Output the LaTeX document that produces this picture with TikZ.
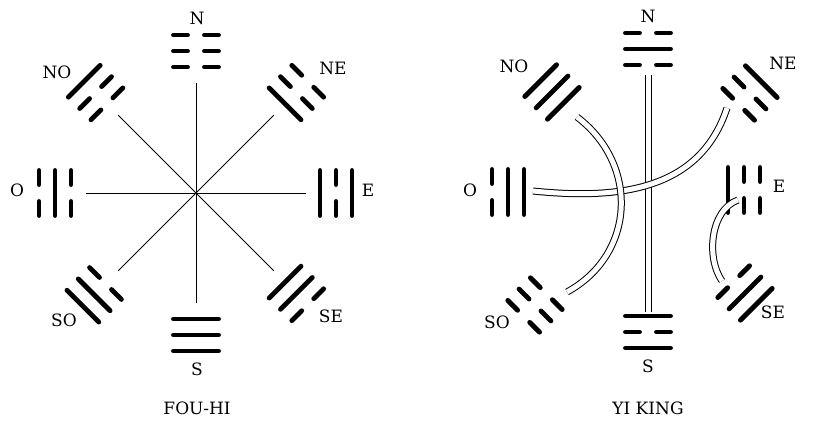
\documentclass[tikz,border=0pt]{standalone}
\usepackage{fontspec}
\newfontfamily\labfont{DejaVu Serif}
\usetikzlibrary{calc}
\newcommand\yao[2]{%
  \ifnum#1=1
    \draw[tline] (-22.5,#2) -- (22.5,#2);
  \else
    \draw[tline] (-22.5,#2) -- (-8.5,#2);
    \draw[tline] (8.5,#2) -- (22.5,#2);
  \fi}
\newcommand\trigram[6]{%
  \coordinate (#1) at (#2);
  \begin{scope}[shift={(#1)}, rotate=#3-90]
    \yao{#4}{-16}\yao{#5}{0}\yao{#6}{16}
  \end{scope}}
\begin{document}
\begin{tikzpicture}[x=1pt,y=1pt]
\tikzset{
  tline/.style={line width=4.8pt, line cap=round},
  spoke/.style={line width=0.9pt},
  dbl/.style={double, double distance=5pt, line width=1pt},
  lab/.style={font=\labfont\fontsize{17}{17}\selectfont, inner sep=0pt},
  ttl/.style={font=\labfont\fontsize{17}{17}\selectfont, inner sep=0pt}
}
\useasboundingbox (0,0) rectangle (839,428);
% ---------------- left: FOU-HI ----------------
\coordinate (cL) at (196,235);
\foreach \a in {0,45,90,135}{
  \draw[spoke] ([shift={(\a:110)}]cL) -- ([shift={(\a+180:110)}]cL);
}
\trigram{lN}{$(cL)+(90:142)$}{90}{0}{0}{0}
\trigram{lS}{$(cL)+(270:142)$}{270}{1}{1}{1}
\trigram{lO}{$(cL)+(180:141)$}{180}{0}{1}{0}
\trigram{lE}{$(cL)+(0:140)$}{0}{1}{0}{1}
\trigram{lNO}{$(cL)+(135:142)$}{135}{0}{0}{1}
\trigram{lNE}{$(cL)+(45:142)$}{45}{1}{0}{0}
\trigram{lSO}{$(cL)+(225:144)$}{225}{0}{1}{1}
\trigram{lSE}{$(cL)+(315:142)$}{315}{1}{1}{0}
\node[lab] (tlN) at (197,410) {N};
\node[lab] (tlNO) at (57,356) {NO};
\node[lab] (tlNE) at (333,360) {NE};
\node[lab] (tlO) at (17,238) {O};
\node[lab] (tlE) at (368,238) {E};
\node[lab] (tlSO) at (64,108) {SO};
\node[lab] (tlS) at (197,59) {S};
\node[lab] (tlSE) at (331,112) {SE};
\node[ttl] (tL) at (197,20) {FOU-HI};
% ---------------- right: YI KING ----------------
\trigram{rN}{648,379}{90}{0}{1}{0}
\trigram{rS}{648,96}{270}{1}{0}{1}
\trigram{rO}{508,236}{180}{1}{1}{0}
\trigram{rE}{744,238}{0}{1}{0}{0}
\trigram{rNO}{552,336}{135}{1}{1}{1}
\trigram{rNE}{750,335}{45}{0}{0}{1}
\trigram{rSO}{535,123}{225}{0}{0}{0}
\trigram{rSE}{745,135}{315}{0}{1}{1}
\coordinate (vA) at (648.5,353);
\coordinate (vB) at (648.5,116);
\coordinate (oA) at (533,237);
\coordinate (oB) at (727,320);
\coordinate (nA) at (577,311);
\coordinate (nB) at (567,136);
\coordinate (eA) at (738,228);
\coordinate (eB) at (722,147);
\draw[dbl] (vA) -- (vB);
\draw[dbl] (oA) .. controls (620,228) and (700,238) .. (oB);
\draw[dbl] (nA) .. controls (640,263) and (635,173) .. (nB);
\draw[dbl] (eA) .. controls (710,218) and (706,170) .. (eB);
\node[lab] (trN) at (648,412) {N};
\node[lab] (trNO) at (514,362) {NO};
\node[lab] (trNE) at (783,365) {NE};
\node[lab] (trO) at (470,238) {O};
\node[lab] (trE) at (779,242) {E};
\node[lab] (trSO) at (497,106) {SO};
\node[lab] (trS) at (648,62) {S};
\node[lab] (trSE) at (773,116) {SE};
\node[ttl] (tR) at (648,20) {YI KING};
\end{tikzpicture}
\end{document}
